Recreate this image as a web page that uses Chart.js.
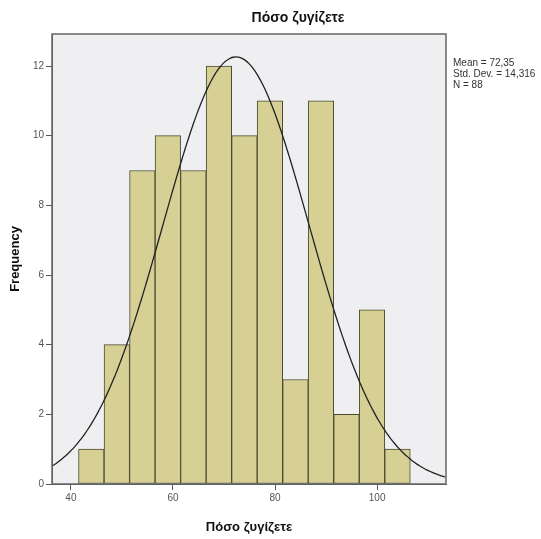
<!DOCTYPE html>
<html>
<head>
<meta charset="utf-8">
<script src="https://cdn.jsdelivr.net/npm/chart.js@4.4.1/dist/chart.umd.min.js"></script>
<style>
  html, body { margin: 0; padding: 0; background: #fff; }
  #wrap { width: 541px; height: 539px; }
</style>
</head>
<body>
<div id="wrap"><canvas id="histChart"></canvas></div>
<script>
// bin centres (width 5) and counts
const binCenters = [44, 49, 54, 59, 64, 69, 74, 79, 84, 89, 94, 99, 104];
const counts = [1, 4, 9, 10, 9, 12, 10, 11, 3, 11, 2, 5, 1];
const xTicks = [40, 60, 80, 100];
const yTicks = [0, 2, 4, 6, 8, 10, 12];

// summary shown beside the plot
const mean = 72.35;
const stdDev = 14.316;
const n = 88;
const binWidth = 5;

const xMin = 36.3, xMax = 113.5;

// fitted normal curve scaled to counts
const curveX = [];
for (let x = xMin; x <= xMax + 0.01; x += 0.5) curveX.push(x);
const curve = curveX.map(x => {
  const z = (x - mean) / stdDev;
  return { x: x, y: n * binWidth * Math.exp(-0.5 * z * z) / (stdDev * Math.sqrt(2 * Math.PI)) };
});

const plotBg = {
  id: 'plotBg',
  beforeDraw(chart) {
    const { ctx, chartArea: a } = chart;
    ctx.save();
    ctx.fillStyle = '#efeff1';
    ctx.fillRect(a.left, a.top, a.right - a.left, a.bottom - a.top);
    ctx.restore();
  },
  afterDraw(chart) {
    const { ctx, chartArea: a } = chart;
    ctx.save();
    ctx.strokeStyle = '#666';
    ctx.lineWidth = 1.5;
    ctx.strokeRect(a.left, a.top, a.right - a.left, a.bottom - a.top);

    ctx.fillStyle = '#111';
    ctx.font = 'bold 14px "Liberation Sans", Arial, sans-serif';
    ctx.textAlign = 'center';
    ctx.textBaseline = 'middle';
    ctx.fillText('Πόσο ζυγίζετε', 298, 18);

    ctx.fillStyle = '#333';
    ctx.font = '10px "Liberation Sans", Arial, sans-serif';
    ctx.textAlign = 'left';
    ctx.fillText('Mean = ' + mean.toFixed(2).replace('.', ','), 453, 63);
    ctx.fillText('Std. Dev. = ' + stdDev.toFixed(3).replace('.', ','), 453, 74);
    ctx.fillText('N = ' + n, 453, 85);
    ctx.restore();
  }
};

new Chart(document.getElementById('histChart'), {
  type: 'bar',
  data: {
    datasets: [{
      type: 'line',
      data: curve,
      borderColor: '#222',
      borderWidth: 1.3,
      pointRadius: 0,
      tension: 0.3,
      fill: false,
      order: 0
    }, {
      type: 'bar',
      data: binCenters.map((c, i) => ({ x: c, y: counts[i] })),
      backgroundColor: '#d6d094',
      borderColor: '#4a4a30',
      borderWidth: 1,
      borderSkipped: false,
      barPercentage: 1,
      categoryPercentage: 1,
      order: 1
    }]
  },
  options: {
    responsive: true,
    maintainAspectRatio: false,
    animation: false,
    layout: { padding: { top: 34, right: 95, left: 4, bottom: 0 } },
    plugins: {
      legend: { display: false },
      tooltip: { enabled: false }
    },
    scales: {
      x: {
        type: 'linear',
        offset: false,
        min: xMin,
        max: xMax,
        afterBuildTicks: s => { s.ticks = xTicks.map(v => ({ value: v })); },
        afterFit: s => { s.height = 55; },
        grid: { offset: false, drawOnChartArea: false, drawTicks: true, tickLength: 6, color: '#555' },
        border: { display: true, color: '#555' },
        ticks: { color: '#555', font: { size: 10, family: '"Liberation Sans", Arial' }, padding: 2 },
        title: {
          display: true,
          text: 'Πόσο ζυγίζετε',
          color: '#111',
          font: { size: 13, weight: 'bold', family: '"Liberation Sans", Arial' },
          padding: { top: 10 }
        }
      },
      y: {
        min: 0,
        max: 12.92,
        afterBuildTicks: s => { s.ticks = yTicks.map(v => ({ value: v })); },
        afterFit: s => { s.width = 48; },
        grid: { drawOnChartArea: false, drawTicks: true, tickLength: 6, color: '#555' },
        border: { display: true, color: '#555' },
        ticks: { color: '#555', font: { size: 10, family: '"Liberation Sans", Arial' }, padding: 2 },
        title: {
          display: true,
          text: 'Frequency',
          color: '#111',
          font: { size: 13, weight: 'bold', family: '"Liberation Sans", Arial' },
          padding: { top: 4, bottom: 10 }
        }
      }
    }
  },
  plugins: [plotBg]
});
</script>
</body>
</html>
